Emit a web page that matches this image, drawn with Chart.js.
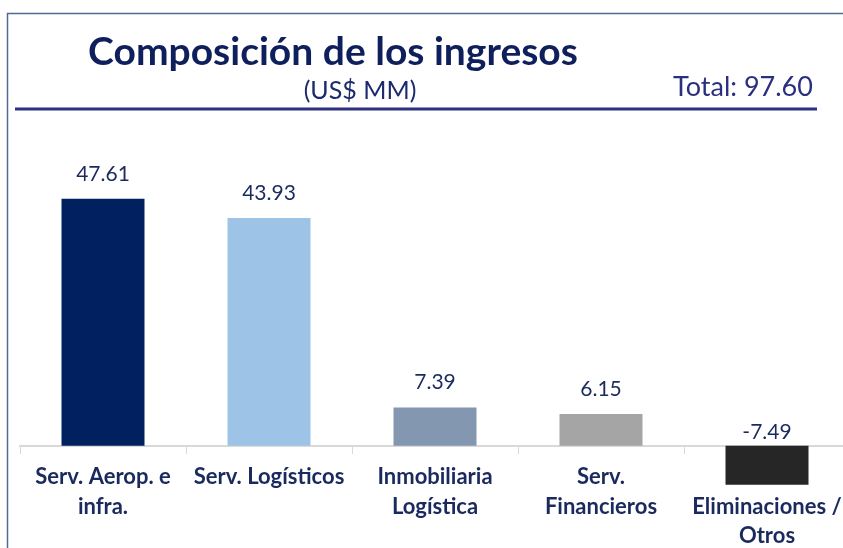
<!DOCTYPE html>
<html>
<head>
<meta charset="utf-8">
<script src="https://cdn.jsdelivr.net/npm/chart.js@4/dist/chart.umd.min.js"></script>
<style>
  html, body { margin: 0; padding: 0; overflow: hidden; background: #fff; }
</style>
</head>
<body>
<canvas id="ingresos" width="852" height="548"></canvas>
<script>
// datos
let categorias = [
    ["Serv. Aerop. e", "infra."],
    ["Serv. Logísticos"],
    ["Inmobiliaria", "Logística"],
    ["Serv.", "Financieros"],
    ["", "Eliminaciones /", "Otros"]
];
let valores = [47.61, 43.93, 7.39, 6.15, -7.49];
let colores = ['#002060', '#9dc3e6', '#8497b0', '#a5a5a5', '#262626'];
let titulo = "Composición de los ingresos";
let subtitulo = "(US$ MM)";
let total = "Total: 97.60";

let textoNavy = '#1b2a5e';

// encabezado, marco y linea
let encabezado = {
    id: 'encabezado',
    beforeDraw(chart) {
        let c = chart.ctx;
        c.save();
        c.strokeStyle = '#4f6a96';
        c.lineWidth = 1.5;
        c.beginPath();
        c.moveTo(7.5, 548);
        c.lineTo(7.5, 13.5);
        c.lineTo(852, 13.5);
        c.stroke();

        c.fillStyle = '#0e1f5b';
        c.textAlign = 'center';
        c.textBaseline = 'middle';
        c.font = 'bold 39px Lato';
        c.fillText(titulo, 333, 52);

        c.fillStyle = '#1a2a6c';
        c.font = '25px Lato';
        c.fillText(subtitulo, 360, 91);

        c.fillStyle = '#2a2f80';
        c.font = '27px Lato';
        c.fillText(total, 743, 87);

        c.strokeStyle = '#2e3180';
        c.lineWidth = 3;
        c.beginPath();
        c.moveTo(15, 109);
        c.lineTo(817, 109);
        c.stroke();
        c.restore();
    }
};

// etiquetas de valor sobre las barras
let etiquetas = {
    id: 'etiquetas',
    afterDatasetsDraw(chart) {
        let c = chart.ctx;
        let meta = chart.getDatasetMeta(0);
        c.save();
        c.fillStyle = textoNavy;
        c.font = '21px Lato';
        c.textAlign = 'center';
        c.textBaseline = 'middle';
        meta.data.forEach((bar, i) => {
            let v = valores[i];
            let y = v >= 0 ? bar.y - 25 : bar.base - 14;
            c.fillText(v.toFixed(2), bar.x, y);
        });
        c.restore();
    }
};

let ctx = document.getElementById("ingresos");

let grafico = new Chart(ctx, {

    type: 'bar',

    data: {
        labels: categorias,
        datasets: [
            {
                label: "Ingresos",
                data: valores,
                backgroundColor: colores,
                borderWidth: 0,
                categoryPercentage: 1,
                barPercentage: 0.5,
                clip: false,
            }
        ]
    },

    options: {
        responsive: false,
        animation: false,
        layout: {
            padding: { top: 120, bottom: 2, left: 20, right: 2 }
        },
        plugins: {
            legend: { display: false },
            title: { display: false },
            tooltip: { enabled: false },
        },
        scales: {
            y: {
                display: false,
                min: -19.3,
                max: 62.8,
            },
            x: {
                position: { y: 0 },
                afterFit: (scale) => { scale.height = 0; },
                grid: {
                    drawOnChartArea: false,
                    drawTicks: true,
                    tickLength: 7,
                    color: '#d9d9d9',
                    lineWidth: 1,
                },
                border: {
                    display: true,
                    color: '#d9d9d9',
                    width: 2,
                },
                ticks: {
                    autoSkip: false,
                    maxRotation: 0,
                    minRotation: 0,
                    padding: 10,
                    color: textoNavy,
                    font: { family: 'Lato', size: 22, weight: 'bold', lineHeight: 1.32 },
                },
            },
        },
    },

    plugins: [encabezado, etiquetas]

});
</script>
</body>
</html>
